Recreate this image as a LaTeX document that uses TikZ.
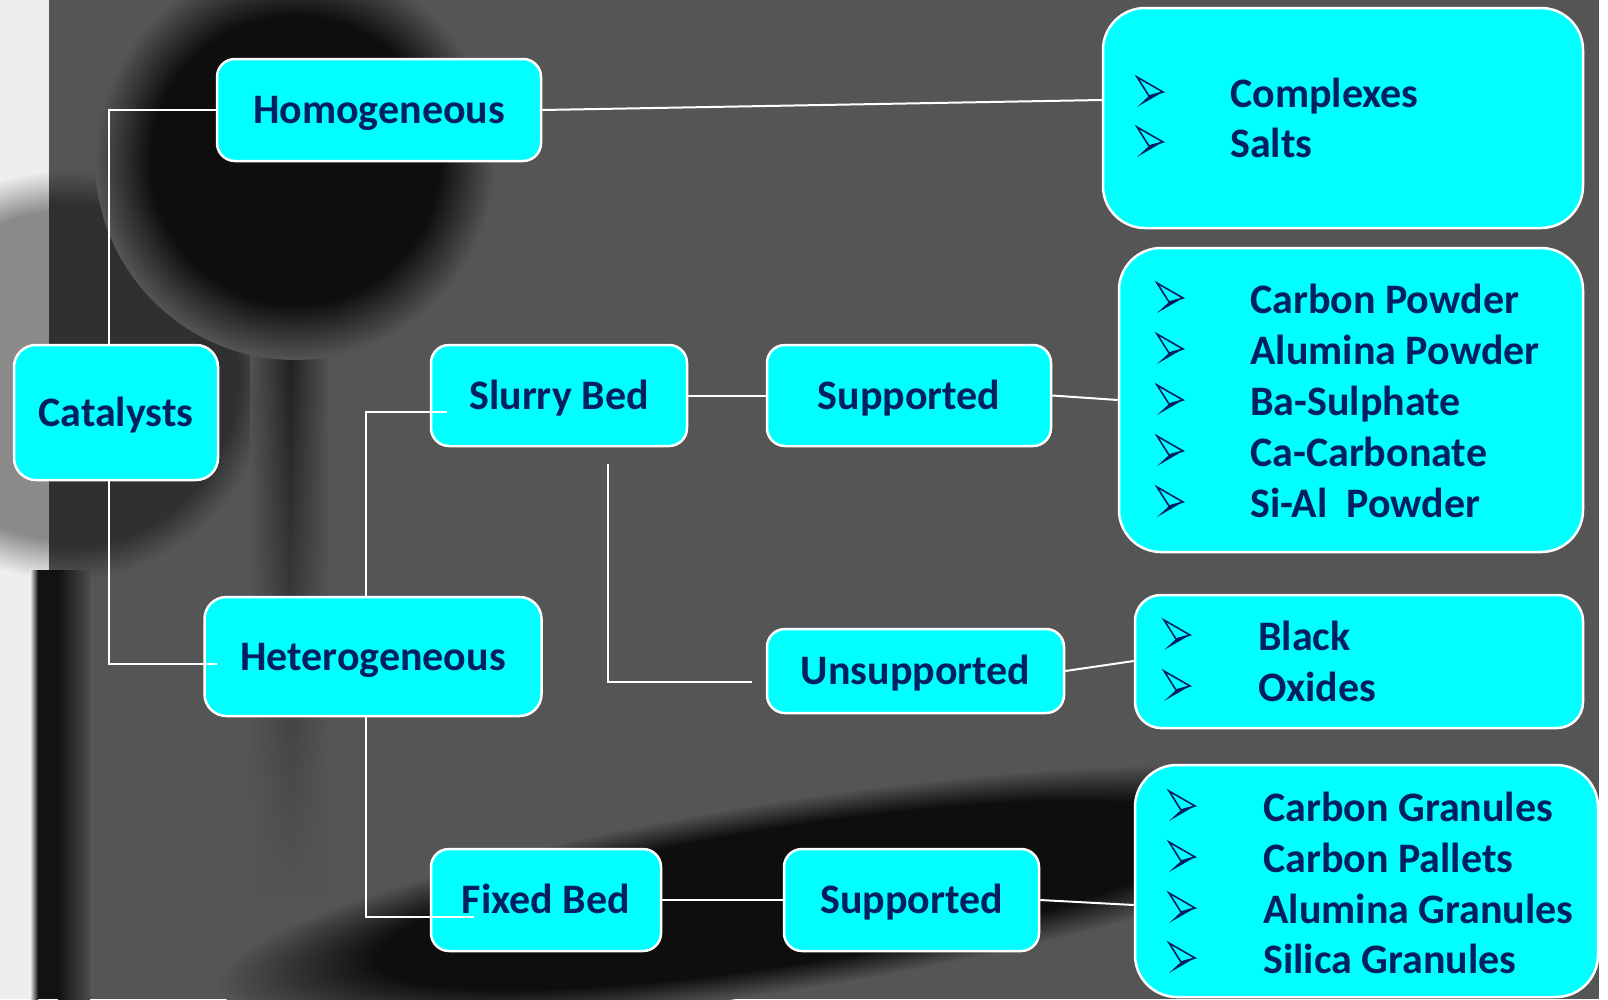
\documentclass[tikz,border=0pt]{standalone}
\usepackage{fontspec}
\usetikzlibrary{fadings}
\setmainfont{Carlito}
\definecolor{bgc}{RGB}{85,85,85}
\definecolor{stripc}{RGB}{238,238,238}
\definecolor{ballL}{RGB}{138,138,138}
\definecolor{ballD}{RGB}{48,48,48}
\definecolor{blk}{RGB}{14,14,14}
\definecolor{stemc}{RGB}{28,28,28}
\definecolor{barc}{RGB}{18,18,18}
\definecolor{cy}{RGB}{0,255,255}
\definecolor{navy}{RGB}{0,32,96}
\pgfdeclareradialshading{sballL}{\pgfpoint{0bp}{0bp}}{color(0bp)=(ballL); color(20bp)=(ballL); color(25bp)=(stripc); color(50bp)=(stripc)}
\pgfdeclareradialshading{sballD}{\pgfpoint{0bp}{0bp}}{color(0bp)=(ballD); color(21bp)=(ballD); color(25bp)=(bgc); color(50bp)=(bgc)}
\pgfdeclareradialshading{sblk}{\pgfpoint{0bp}{0bp}}{color(0bp)=(blk); color(18bp)=(blk); color(25bp)=(bgc); color(50bp)=(bgc)}
\tikzset{
  box/.style={draw=white, line width=2.5, fill=cy, rounded corners=18, text=navy,
    font=\fontsize{42}{50}\selectfont\bfseries, inner sep=0pt, text height=27pt, text depth=0pt, align=center},
  listbox/.style={draw=white, line width=2.5, fill=cy, rounded corners=42, inner sep=0pt},
  itm/.style={anchor=base west, inner sep=0pt, text=navy, font=\fontsize{42}{50}\selectfont\bfseries},
  conn/.style={draw=white, line width=2},
  bul/.pic={
    \fill[navy] (-1,4) -- (13,0) -- (-13,15) -- cycle;
    \draw[navy, line width=1.6, fill=cy, line join=miter] (-13,-15) -- (13,0) -- (-1,4) -- cycle;
  }
}
\begin{document}
\begin{tikzpicture}[x=1pt, y=-1pt]
\useasboundingbox (0,0) rectangle (1608,999);
\clip (0,0) rectangle (1608,999);
% ---------- background ----------
\fill[white] (0,0) rectangle (1608,999);
\fill[bgc] (49,0) rectangle (1599,999);
\fill[stripc] (0,0) rectangle (49,999);
\begin{scope}
  \clip (0,0) rectangle (49,999);
  \shade[shading=sballL] (65,375) circle (205);
  \shade[left color=stripc, right color=barc] (30,570) rectangle (38,999);
  \fill[barc] (38,570) rectangle (49,999);
\end{scope}
\begin{scope}
  \clip (49,0) rectangle (1599,999);
  \shade[shading=sballD] (65,375) circle (205);
  \fill[barc] (49,570) rectangle (58,999);
  \shade[left color=barc, right color=bgc!90!black] (58,570) rectangle (90,999);
  \shade[left color=bgc, right color=bgc, middle color=stemc, path fading=south] (250,300) rectangle (330,900);
  \shade[shading=sblk] (295,160) circle (200);
  \begin{scope}[transform canvas={shift={(790,895)}, rotate=9}]
    \shade[shading=sblk] (0,0) ellipse (580 and 95);
  \end{scope}
\end{scope}
% ---------- nodes ----------
\node[box, minimum width=324, minimum height=102] (homo) at (379,110) {Homogeneous};
\node[box, rounded corners=22, minimum width=204, minimum height=135] (cat) at (116,412.5) {Catalysts};
\node[box, rounded corners=22, minimum width=337, minimum height=119] (het) at (373,656.5) {Heterogeneous};
\node[box, minimum width=256, minimum height=101] (slurry) at (559,395.5) {Slurry Bed};
\node[box, minimum width=284, minimum height=101] (sup1) at (909,395.5) {Supported};
\node[box, minimum width=297, minimum height=84] (unsup) at (915.5,671) {Unsupported};
\node[box, minimum width=230, minimum height=102] (fixed) at (546,900) {Fixed Bed};
\node[box, minimum width=255, minimum height=102] (sup2) at (911.5,900) {Supported};
% list boxes
\node[listbox, minimum width=480, minimum height=220] (cplx) at (1343,118) {};
\node[listbox, minimum width=464, minimum height=304] (powder) at (1351,400) {};
\node[listbox, rounded corners=26, minimum width=448, minimum height=133] (blackbox) at (1359,661.5) {};
\node[listbox, minimum width=463, minimum height=232] (gran) at (1366.5,881) {};
% list items
\node[itm] (c1) at (1230,107) {Complexes};
\node[itm] (c2) at (1230,157) {Salts};
\pic at (1150,92) {bul};
\pic at (1150,142) {bul};
\node[itm] (p1) at (1250,313) {Carbon Powder};
\node[itm] (p2) at (1250,364) {Alumina Powder};
\node[itm] (p3) at (1250,415) {Ba-Sulphate};
\node[itm] (p4) at (1250,466) {Ca-Carbonate};
\node[itm] (p5) at (1250,517) {Si-Al~ Powder};
\foreach \yy in {313,364,415,466,517} { \pic at (1170,\yy-15) {bul}; }
\node[itm] (b1) at (1258,650) {Black};
\node[itm] (b2) at (1258,701) {Oxides};
\foreach \yy in {650,701} { \pic at (1177,\yy-15) {bul}; }
\node[itm] (g1) at (1263,821) {Carbon Granules};
\node[itm] (g2) at (1263,872) {Carbon Pallets};
\node[itm] (g3) at (1263,923) {Alumina Granules};
\node[itm] (g4) at (1263,973) {Silica Granules};
\foreach \yy in {821,872,923,973} { \pic at (1182,\yy-15) {bul}; }
% ---------- connectors ----------
\coordinate (j1) at (109,0);
\coordinate (j2) at (366,0);
\coordinate (hetin) at (217,664);
\coordinate (slin) at (447,412);
\coordinate (fbin) at (474,917);
\coordinate (free1) at (608,464);
\coordinate (free2) at (752,682);
\coordinate (cyy) at (0,100);
\coordinate (pwy) at (0,400);
\coordinate (bky) at (0,661);
\coordinate (gry) at (0,905);
\draw[conn] (homo.west) -| (cat.north -| j1);
\draw[conn] (cat.south -| j1) |- (hetin);
\draw[conn] (het.north -| j2) |- (slin);
\draw[conn] (het.south -| j2) |- (fbin);
\draw[conn] (slurry.east) -- (sup1.west);
\draw[conn] (sup1.east) -- (powder.west |- pwy);
\draw[conn] (free1) |- (free2);
\draw[conn] (unsup.east) -- (blackbox.west |- bky);
\draw[conn] (homo.east) -- (cplx.west |- cyy);
\draw[conn] (fixed.east) -- (sup2.west);
\draw[conn] (sup2.east) -- (gran.west |- gry);
\end{tikzpicture}
\end{document}
